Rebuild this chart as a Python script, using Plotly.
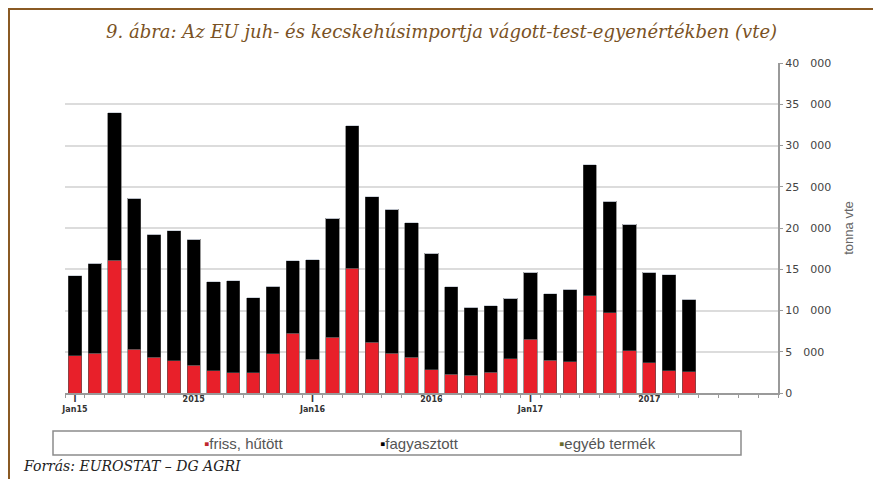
import plotly.graph_objects as go

# havi adatok, Jan15 - Aug17 (tonna vte)
honapok = list(range(32))
friss = [4520, 4810, 16120, 5330, 4320, 3920, 3350, 2710, 2460, 2460, 4730, 7270,
         4080, 6750, 15110, 6180, 4810, 4320, 2790, 2300, 2140, 2510, 4160, 6500,
         4000, 3800, 11800, 9740, 5130, 3680, 2710, 2550]
osszes = [14220, 15720, 33980, 23600, 19230, 19640, 18630, 13460, 13620, 11520, 12970, 16040,
          16160, 21170, 32400, 23800, 22300, 20650, 16930, 12890, 10380, 10590, 11480, 14630,
          12040, 12570, 27640, 23230, 20440, 14630, 14340, 11350]
fagyasztott = [o - f for o, f in zip(osszes, friss)]
egyeb = [0] * 32

tick_pos = [0, 6, 12, 18, 23, 29]
tick_txt = ["I<br>Jan15", "2015", "I<br>Jan16", "2016", "I<br>Jan17", "2017"]
hatarok = [i - 0.5 for i in range(37)]

# the page body has an 8px margin, so figure coords = page coords - 8
OFF = 8
W, H = 881 - OFF, 479 - OFF
L, R, T, B = 65, 778, 63, 393   # plot area on the page
def px(x):
    return (x - L) / (R - L)
def py(y):
    return (B - y) / (B - T)

fig = go.Figure()
fig.add_bar(x=honapok, y=friss, name="friss, hűtött", marker_color="#e8202a",
            marker_line=dict(color="#555555", width=0.6))
fig.add_bar(x=honapok, y=fagyasztott, name="fagyasztott", marker_color="#000000",
            marker_line=dict(color="#555555", width=0.6))
fig.add_bar(x=honapok, y=egyeb, name="egyéb termék", marker_color="#6b6b2a")

fig.update_layout(
    barmode="stack", bargap=0.33, showlegend=False,
    width=W, height=H,
    margin=dict(l=L - OFF, r=W - (R - OFF), t=T - OFF, b=H - (B - OFF)),
    paper_bgcolor="white", plot_bgcolor="white",
    separators=",\u2003",
    font=dict(family="Liberation Sans", color="#333333"),
    xaxis=dict(range=[-0.5, 35.5], tickmode="array", tickvals=hatarok,
               ticktext=[""] * len(hatarok), ticks="outside", ticklen=3,
               tickcolor="#9a9a9a", showline=True, linecolor="#9a9a9a", linewidth=2,
               showgrid=False, zeroline=False),
    xaxis2=dict(range=[-0.5, 35.5], overlaying="x", side="bottom", tickmode="array",
                tickvals=tick_pos, ticktext=tick_txt, ticks="", showline=False,
                showgrid=False, zeroline=False,
                tickfont=dict(size=8, color="#333333", family="DejaVu Sans", weight="bold")),
)
fig.update_yaxes(
    range=[0, 40000], dtick=5000, side="right", tickformat=",d",
    showline=True, linecolor="#9a9a9a", linewidth=2,
    ticks="outside", ticklen=3, tickcolor="#9a9a9a",
    gridcolor="#dcdcdc", gridwidth=2, zeroline=False,
    tickfont=dict(size=11, color="#444444", family="DejaVu Sans"),
    title=dict(text="tonna vte", font=dict(size=13, color="#666666"), standoff=14),
)
# egy láthatatlan trace, hogy a második tengely is kirajzolódjon
fig.add_scatter(x=[0], y=[0], xaxis="x2", mode="markers", marker_opacity=0,
                hoverinfo="skip", showlegend=False)

# keret
fig.add_shape(type="rect", xref="paper", yref="paper",
              x0=px(9), x1=px(876), y0=py(495), y1=py(9),
              line=dict(color="#8a5a24", width=2))
# cím
fig.add_annotation(text="<i>9. ábra: Az EU juh- és kecskehúsimportja vágott-test-egyenértékben (vte)</i>",
                   xref="paper", yref="paper", x=px(441), y=py(32), yanchor="middle",
                   showarrow=False,
                   font=dict(family="DejaVu Serif", size=18, color="#7a5224"))
# jelmagyarázat
fig.add_shape(type="rect", xref="paper", yref="paper",
              x0=px(53), x1=px(741), y0=py(455), y1=py(431),
              line=dict(color="#8c8c8c", width=1.5))
leg = [("friss, hűtött", "#c0272d", 202), ("fagyasztott", "#000000", 378),
       ("egyéb termék", "#6b6b2a", 557)]
for nev, szin, xx in leg:
    fig.add_annotation(text=f"<span style='color:{szin}'>▪</span>{nev}",
                       xref="paper", yref="paper", x=px(xx), y=py(443),
                       xanchor="left", yanchor="middle", showarrow=False,
                       font=dict(family="Liberation Sans", size=15, color="#555555"))
# forrás
fig.add_annotation(text="<i>Forrás: EUROSTAT – DG AGRI</i>", xref="paper", yref="paper",
                   x=px(21), y=py(466), xanchor="left", yanchor="middle", showarrow=False,
                   font=dict(family="DejaVu Serif", size=14, color="#222222"))

fig.write_html("out.html")
